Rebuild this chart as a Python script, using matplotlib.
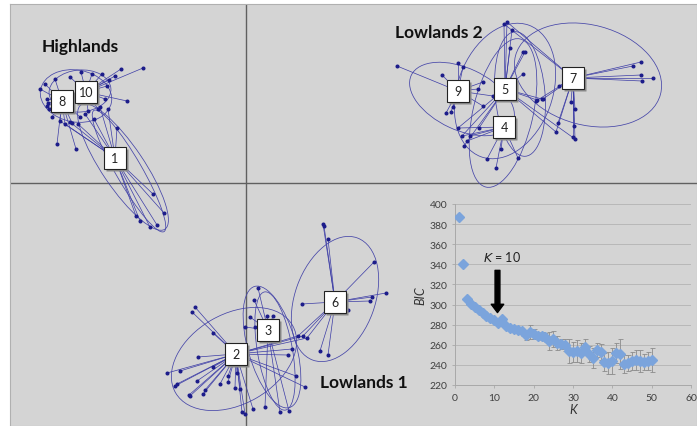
import numpy as np
import matplotlib.pyplot as plt
from matplotlib.patches import Ellipse
from matplotlib.collections import LineCollection
from matplotlib import transforms

plt.rcParams['font.family'] = ['Lato', 'DejaVu Sans']

# cluster centres (PC scores x100)
centre_ids = [1, 2, 3, 4, 5, 6, 7, 8, 9, 10]
centre_x = [-131, -10, 22, 258, 259, 89, 327, -184, 212, -160]
centre_y = [25, -171, -147, 56, 94, -119, 105, 82, 92, 91]

# individuals, grouped by the cluster they are linked to
clust1 = [(-129, 55), (-152, 64), (-161, 69), (-146, 76), (-138, 74), (-93, -11), (-82, -30),
          (-110, -33), (-106, -38), (-96, -44), (-89, -42), (-168, 59), (-176, 61)]
clust2 = [(-51, -124), (-54, -129), (-33, -150), (-48, -174), (-79, -190), (-66, -188), (-71, -203),
          (-69, -201), (-56, -213), (-57, -212), (-43, -211), (-41, -207), (-49, -198), (-33, -184),
          (-26, -201), (-18, -199), (-11, -205), (-6, -206), (-4, -229), (-1, -231), (7, -226),
          (-18, -193), (-9, -190), (59, -204), (50, -193), (42, -172), (46, -166)]
clust3 = [(12, -105), (8, -117), (21, -133), (27, -133), (-1, -144), (9, -144), (19, -224),
          (34, -229), (43, -228), (4, -134)]
clust4 = [(250, 15), (255, 34), (272, 25), (224, 47), (221, 42), (241, 24)]
clust5 = [(266, 153), (261, 161), (258, 159), (279, 131), (277, 131), (277, 109), (291, 83),
          (296, 84), (247, 87), (264, 135), (212, 55), (216, 47), (218, 37), (233, 55)]
clust6 = [(77, -41), (78, -43), (82, -56), (128, -79), (140, -110), (126, -114), (124, -118),
          (56, -121), (102, -127), (74, -168), (82, -172), (61, -155), (57, -153), (52, -153)]
clust7 = [(395, 121), (387, 117), (395, 108), (407, 105), (396, 102), (313, 97), (329, 74),
          (325, 81), (328, 57), (312, 60), (310, 51), (327, 46), (290, 82), (297, 84), (329, 44)]
clust8 = [(-201, 99), (-206, 94), (-199, 84), (-198, 80), (-199, 77), (-197, 74), (-194, 66),
          (-186, 62), (-181, 59), (-174, 60), (-189, 39), (-170, 34), (-191, 104), (-166, 66)]
clust9 = [(151, 117), (196, 108), (212, 120), (217, 116), (237, 101), (232, 94), (200, 70),
          (205, 71), (207, 76), (237, 77)]
clust10 = [(-103, 115), (-125, 114), (-119, 82), (-131, 107), (-137, 103), (-139, 97), (-144, 109),
           (-154, 109), (-165, 111), (-176, 106), (-148, 74), (-141, 84), (-158, 72)]
clusters = [clust1, clust2, clust3, clust4, clust5, clust6, clust7, clust8, clust9, clust10]

# individuals linked to a second cluster as well
extra_links = [(7, (261, 161)), (7, (258, 159)), (5, (329, 44)), (5, (310, 51)),
               (2, (52, -153)), (2, (57, -153)), (2, (61, -155)), (1, (-186, 62)),
               (1, (-181, 59)), (4, (212, 55)), (4, (216, 47)), (9, (247, 87))]

# cluster ellipses: centre, major, minor, angle
ell_x = [-170, -166, -117, -123, 342, 216, 259, 257, 274, -12, 26, 29, 89]
ell_y = [87, 92, 12, 16, 108, 84, 92, 70, 89, -176, -164, -168, -116]
ell_w = [72, 62, 140, 150, 150, 112, 140, 152, 125, 135, 126, 120, 130]
ell_h = [52, 42, 26, 42, 100, 62, 95, 60, 50, 90, 48, 35, 80]
ell_ang = [-10, 5, -60, -56, -15, -25, 70, 77, 95, 30, 106, 100, 70]

group_names = ['Highlands', 'Lowlands 2', 'Lowlands 1']
group_x = [-204, 149, 74]
group_y = [137, 151, -199]

# BIC curve
K = np.arange(1, 51)
bic = [387, 340, 306, 301, 298, 295, 292, 289, 287, 285, 282, 286, 279, 277, 276, 275, 274,
       270, 273, 271, 269, 269, 268, 264, 266, 262, 261, 260, 254, 253, 254, 252, 258, 251,
       247, 255, 253, 243, 242, 244, 252, 251, 241, 242, 244, 245, 244, 243, 244, 245]
bic_err = [0, 0, 1, 1, 1, 1, 1, 1, 1, 1, 1, 1, 1, 1, 1, 1, 2,
           5, 7, 5, 3, 4, 4, 9, 8, 7, 5, 6, 12, 10, 11, 10, 8, 8,
           10, 7, 8, 9, 11, 13, 10, 15, 9, 8, 9, 10, 11, 8, 9, 12]

fig = plt.figure(figsize=(6.97, 4.27), dpi=100)
ax = fig.add_axes([10 / 697, 0, 687 / 697, 422 / 427])
ax.set_facecolor('#d4d4d4')
ax.set_xlim(-236, 451)
ax.set_ylim(-243, 179)
ax.set_xticks([]); ax.set_yticks([])
for s in ax.spines.values():
    s.set_color('#b0b0b0')
    s.set_linewidth(0.8)
ax.axhline(0, color='#606060', lw=1.0, zorder=1)
ax.axvline(0, color='#606060', lw=1.0, zorder=1)

line_col = '#3b3ba6'
pt_col = '#1c1c8a'

# links from individuals to cluster centres
segs = []
for cid, pts in zip(centre_ids, clusters):
    i = centre_ids.index(cid)
    for p in pts:
        segs.append([(centre_x[i], centre_y[i]), p])
for cid, p in extra_links:
    i = centre_ids.index(cid)
    segs.append([(centre_x[i], centre_y[i]), p])
ax.add_collection(LineCollection(segs, colors=line_col, linewidths=0.5, zorder=2))

for x, y, w, h, a in zip(ell_x, ell_y, ell_w, ell_h, ell_ang):
    ax.add_patch(Ellipse((x, y), w, h, angle=a, fill=False, ec='#4545a8', lw=0.55, zorder=2))

for pts in clusters:
    xs, ys = zip(*pts)
    ax.plot(xs, ys, 'o', ms=1.9, color=pt_col, zorder=3)

# labelled boxes with a small drop shadow
shadow = transforms.offset_copy(ax.transData, fig=fig, x=2, y=-2, units='dots')
ax.plot(centre_x, centre_y, 's', ms=16, color='#8a8a8a', mec='none', transform=shadow, zorder=4)
ax.plot(centre_x, centre_y, 's', ms=16, mfc='white', mec='#222222', mew=0.8, zorder=5)
for cid, x, y in zip(centre_ids, centre_x, centre_y):
    ax.text(x, y, str(cid), ha='center', va='center', fontsize=9, color='#222222', zorder=6)

for name, x, y in zip(group_names, group_x, group_y):
    ax.text(x, y, name, ha='left', va='center', fontsize=12.5, fontweight='bold', color='#111111')

# inset BIC plot
ins = fig.add_axes([455 / 697, 1 - 386 / 427, 236 / 697, 181 / 427])
ins.patch.set_alpha(0)
ins.set_xlim(0, 60)
ins.set_ylim(220, 400)
ins.set_xticks(range(0, 61, 10))
ins.set_yticks(range(220, 401, 20))
ins.grid(axis='y', color='#b8b8b8', lw=0.7)
ins.set_axisbelow(True)
for side in ['top', 'right']:
    ins.spines[side].set_visible(False)
for side in ['left', 'bottom']:
    ins.spines[side].set_color('#a8a8a8')
    ins.spines[side].set_linewidth(0.7)
ins.tick_params(labelsize=7.5, colors='#404040', length=2, width=0.6)
ins.tick_params(axis='both', color='#a8a8a8')
ins.errorbar(K, bic, yerr=bic_err, fmt='none', ecolor='#8c8c8c', elinewidth=0.6, capsize=1.8, capthick=0.6, zorder=2)
ins.plot(K, bic, 'D', ms=4.8, color='#7ba4dc', zorder=3)
ins.set_xlabel('K', fontsize=9, style='italic', labelpad=1, color='#333333')
ins.set_ylabel('BIC', fontsize=9, style='italic', labelpad=2, color='#333333')
ins.annotate('', xy=(10.8, 292), xytext=(10.8, 334),
             arrowprops=dict(width=3.5, headwidth=9, headlength=6, color='black'))
ins.text(7, 348, '$K$ = 10', fontsize=9, va='center', color='#222222')

fig.savefig('out.png', dpi=100)
